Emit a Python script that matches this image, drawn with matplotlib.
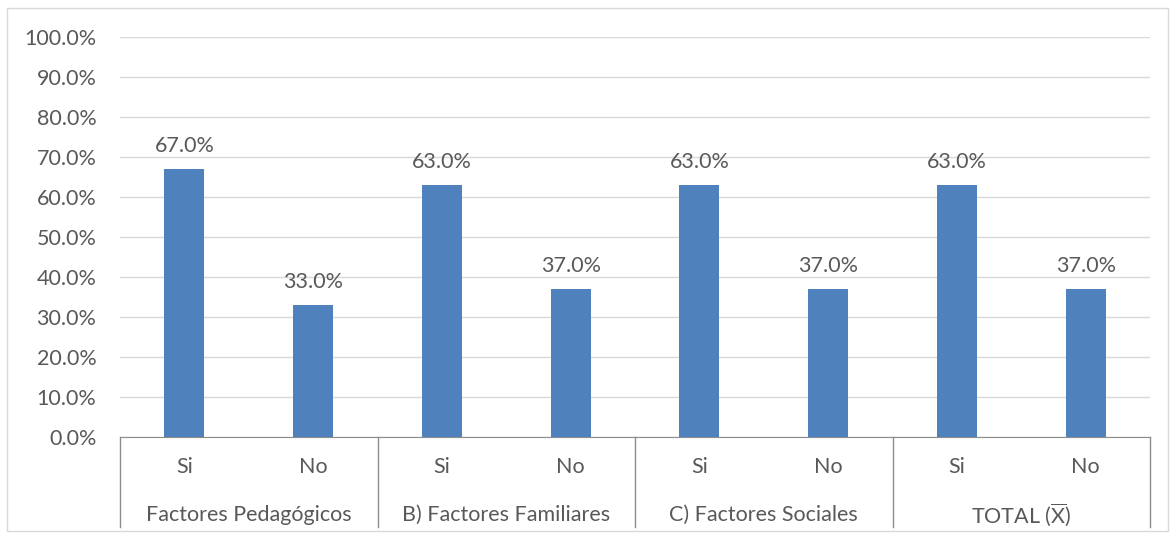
import matplotlib.pyplot as plt
from matplotlib.patches import Rectangle

plt.rcParams['font.family'] = ['Lato', 'DejaVu Sans']
plt.rcParams['mathtext.fontset'] = 'custom'
plt.rcParams['mathtext.rm'] = 'Lato'

groups = ['Factores Pedagógicos', 'B) Factores Familiares', 'C) Factores Sociales', r'TOTAL ($\overline{\mathrm{X}}$)']
answers = ['Si', 'No']
values = [67.0, 33.0, 63.0, 37.0, 63.0, 37.0, 63.0, 37.0]

BAR = '#4f81bd'
TXT = '#595959'
GRID = '#d9d9d9'
AXIS = '#8c8c8c'
FS = 15.5

fig = plt.figure(figsize=(11.76, 5.39), dpi=100)
fig.patches.append(Rectangle((7 / 1176, 8 / 539), 1161 / 1176, 523 / 539, transform=fig.transFigure,
                             fill=False, edgecolor=GRID, lw=1))
ax = fig.add_axes([120 / 1176, 102 / 539, 1030 / 1176, 400 / 539])

x = list(range(len(values)))
ax.bar(x, values, width=0.31, color=BAR, zorder=3)
for xi, v in zip(x, values):
    ax.text(xi, v + 3.3, f'{v:.1f}%', ha='center', va='bottom', fontsize=FS, color=TXT)

ax.set_xlim(-0.5, len(values) - 0.5)
ax.set_ylim(0, 100)
ax.set_yticks(range(0, 101, 10))
ax.set_yticklabels([f'{t:.1f}%' for t in range(0, 101, 10)], fontsize=FS, color=TXT)
ax.tick_params(axis='y', length=0, pad=17)
ax.grid(axis='y', color=GRID, lw=1, zorder=0)
for s in ['top', 'right', 'left']:
    ax.spines[s].set_visible(False)
ax.spines['bottom'].set_color(AXIS)
ax.set_xticks([])

# two-level category axis
for i in range(len(values)):
    ax.text(i, -7.5, answers[i % 2], ha='center', va='center', fontsize=FS, color=TXT, clip_on=False)
for g, name in enumerate(groups):
    ax.text(2 * g + 0.5, -19.5, name, ha='center', va='center', fontsize=FS, color=TXT, clip_on=False)
for b in range(len(groups) + 1):
    ax.plot([2 * b - 0.5, 2 * b - 0.5], [0, -22.5], color=AXIS, lw=1, clip_on=False)

fig.savefig('out.png', dpi=100)
